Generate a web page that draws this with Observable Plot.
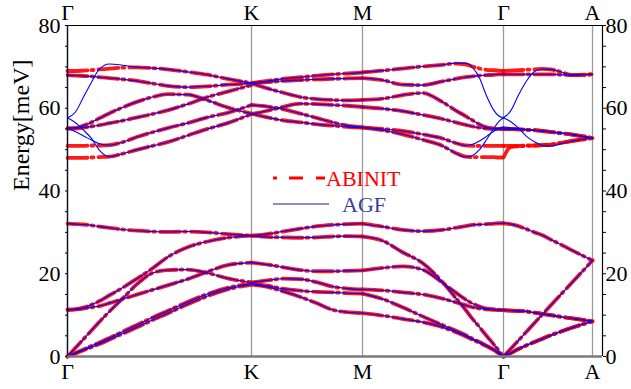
<!DOCTYPE html>
<html><head><meta charset="utf-8">
<script src="https://cdn.jsdelivr.net/npm/d3@7"></script>
<script src="https://cdn.jsdelivr.net/npm/@observablehq/plot@0.6"></script>
<style>
body{margin:0;background:#fff;}
#wrap{position:relative;width:631px;height:389px;}
#legend{position:absolute;left:0;top:0;pointer-events:none;}
</style></head><body><div id="wrap"></div>
<script>
// High-symmetry points (path coordinate) and labels
const symX = [0, 184, 295, 436, 525];
const symLabels = ["Γ", "K", "M", "Γ", "A"];
const yTicks = [0, 20, 40, 60, 80];

// Sampling grids along each path segment
const gridGK = [0, 8, 16, 24, 32, 42, 55, 70, 85, 100, 120, 140, 160, 184];
const gridKM = [184, 200, 215, 233, 250, 265, 280, 295];
const gridMG = [295, 315, 335, 355, 375, 388, 398, 405, 412, 419, 426, 431, 436];
const gridGA = [436, 443, 451, 459, 467, 475, 483, 493, 505, 525];

// Lower six branches (ABINIT and AGF coincide)
const lowGK = [
  [0, 0.75, 1.5, 2.25, 3.0, 4.1, 5.5, 7.1, 8.8, 10.4, 12.6, 14.6, 16.2, 17.4],
  [0, 0.85, 1.7, 2.6, 3.4, 4.5, 6.0, 7.7, 9.4, 11.0, 13.2, 15.1, 16.6, 17.6],
  [0, 2.1, 4.2, 6.3, 8.4, 10.9, 14.0, 17.6, 20.2, 20.9, 21.0, 20.2, 18.9, 17.9],
  [11.3, 11.4, 11.6, 11.9, 12.2, 12.9, 13.9, 15.0, 16.1, 17.2, 18.7, 20.5, 22.1, 22.7],
  [11.3, 11.4, 11.8, 12.5, 13.4, 14.8, 16.6, 18.9, 21.3, 24.0, 26.4, 27.8, 28.7, 29.2],
  [32.1, 32.0, 31.9, 31.7, 31.4, 31.1, 30.7, 30.4, 30.2, 30.1, 30.2, 30.0, 29.6, 29.2]
];
const lowKM = [
  [17.4, 16.8, 15.8, 14.4, 12.8, 11.3, 10.7, 10.5],
  [17.6, 17.1, 16.4, 15.9, 15.6, 15.5, 15.3, 15.2],
  [17.9, 18.4, 18.8, 18.7, 17.9, 16.9, 16.4, 16.2],
  [22.7, 22.2, 21.6, 20.9, 20.6, 20.6, 20.7, 20.8],
  [29.2, 28.9, 28.8, 28.7, 28.8, 29.0, 29.1, 29.0],
  [29.2, 29.6, 30.2, 30.9, 31.5, 31.8, 32.0, 32.1]
];
const lowMG = [
  [10.5, 9.9, 9.1, 8.3, 7.1, 5.9, 4.9, 4.1, 3.3, 2.5, 1.6, 0.8, 0],
  [15.2, 13.9, 11.9, 9.7, 7.6, 6.3, 5.2, 4.3, 3.5, 2.6, 1.7, 0.9, 0],
  [16.2, 16.0, 15.5, 15.0, 14.0, 13.1, 12.4, 11.9, 11.6, 11.4, 11.3, 11.2, 11.2],
  [20.8, 21.4, 21.8, 21.0, 17.8, 15.5, 13.8, 12.8, 12.1, 11.6, 11.4, 11.3, 11.2],
  [29.0, 28.0, 25.2, 22.6, 18.0, 14.2, 11.3, 9.1, 7.1, 5.0, 3.0, 1.5, 0],
  [32.1, 31.4, 30.6, 30.3, 30.6, 31.1, 31.5, 31.8, 31.9, 32.0, 32.1, 32.2, 32.2]
];
const lowGA = [
  [0, 0.8, 1.8, 2.7, 3.5, 4.3, 5.1, 6.0, 7.0, 8.5],
  [0, 0.8, 1.8, 2.7, 3.5, 4.3, 5.1, 6.0, 7.0, 8.5],
  [11.2, 11.1, 11.0, 10.9, 10.6, 10.3, 10.0, 9.6, 9.2, 8.5],
  [11.2, 11.1, 11.0, 10.9, 10.6, 10.3, 10.0, 9.6, 9.2, 8.5],
  [0, 1.8, 3.9, 6.0, 8.1, 10.2, 12.3, 14.9, 18.0, 23.2],
  [32.2, 32.0, 31.5, 30.8, 30.0, 29.3, 28.3, 27.1, 25.6, 23.2]
];

// Upper six branches, ABINIT
const abinitGK = [
  [48.0, 48.0, 48.0, 48.1, 48.2, 48.3, 49.0, 50.0, 50.9, 51.8, 53.4, 55.0, 56.4, 58.6],
  [50.9, 50.9, 50.9, 51.0, 51.0, 51.1, 51.8, 53.1, 54.2, 55.2, 56.4, 57.8, 58.9, 60.8],
  [55.1, 55.2, 55.8, 56.6, 57.6, 58.8, 60.2, 61.6, 62.7, 63.4, 63.3, 61.9, 60.2, 58.7],
  [55.1, 55.1, 55.3, 55.6, 55.9, 56.4, 57.0, 57.8, 58.6, 59.5, 61.0, 62.7, 64.0, 65.6],
  [68.0, 67.9, 67.8, 67.7, 67.5, 67.3, 67.0, 66.6, 66.0, 65.4, 65.1, 65.3, 65.7, 66.0],
  [69.0, 69.0, 69.1, 69.2, 69.4, 69.6, 69.8, 69.9, 69.7, 69.4, 68.8, 68.1, 67.1, 66.1]
];
const abinitKM = [
  [66.1, 66.6, 67.1, 67.5, 67.9, 68.2, 68.4, 68.6],
  [66.0, 66.3, 66.6, 66.8, 67.0, 67.1, 67.2, 67.3],
  [66.0, 64.8, 63.8, 62.7, 62.2, 62.0, 61.9, 62.0],
  [60.8, 60.4, 59.8, 58.7, 57.6, 56.6, 55.8, 55.4],
  [58.6, 59.4, 60.3, 61.1, 61.0, 60.8, 60.6, 60.3],
  [58.7, 57.8, 57.1, 56.6, 56.1, 55.8, 55.5, 55.3]
];
const abinitMG = [
  [68.7, 69.1, 69.6, 70.1, 70.5, 70.8, 70.6, 70.1, 69.6, 69.3, 69.2, 69.1, 69.0],
  [67.3, 66.8, 65.7, 65.6, 66.5, 67.1, 67.5, 67.7, 67.9, 68.0, 68.1, 68.2, 68.2],
  [62.0, 62.3, 63.2, 63.7, 61.5, 59.5, 58.1, 57.1, 56.1, 55.4, 55.1, 55.0, 55.0],
  [60.3, 59.9, 59.3, 58.4, 57.4, 56.6, 56.0, 55.6, 55.3, 55.1, 55.0, 55.0, 55.0],
  [55.4, 55.0, 54.5, 53.7, 52.7, 51.6, 51.0, 50.9, 50.9, 50.9, 50.9, 50.9, 50.9],
  [55.3, 54.7, 53.7, 52.4, 50.9, 49.2, 48.3, 48.2, 48.2, 48.2, 48.2, 48.1, 48.1]
];
const abinitGA = [
  [69.0, 69.1, 69.2, 69.3, 69.4, 69.5, 69.4, 68.8, 68.0, 68.2],
  [68.2, 68.2, 68.2, 68.2, 68.2, 68.2, 68.2, 68.1, 68.0, 68.2],
  [55.0, 54.95, 54.9, 54.8, 54.7, 54.5, 54.3, 54.0, 53.6, 52.8],
  [55.0, 54.95, 54.9, 54.8, 54.7, 54.5, 54.3, 54.0, 53.6, 52.8],
  [50.9, 50.9, 50.9, 51.0, 51.0, 51.1, 51.2, 51.6, 52.1, 52.8],
  [48.1, 50.6, 50.8, 50.9, 51.0, 51.1, 51.2, 51.6, 52.1, 52.8]
];

// Upper six branches, AGF
const agfGK = [
  [57.7, 56.5, 54.7, 52.7, 49.8, 48.3, 49.0, 50.0, 50.9, 51.8, 53.4, 55.0, 56.4, 58.6],
  [55.2, 54.3, 53.3, 52.3, 51.4, 51.1, 51.8, 53.1, 54.2, 55.2, 56.4, 57.8, 58.9, 60.8],
  [55.2, 55.3, 55.8, 56.6, 57.6, 58.8, 60.2, 61.6, 62.7, 63.4, 63.3, 61.9, 60.2, 58.7],
  [55.2, 55.2, 55.3, 55.6, 55.9, 56.4, 57.0, 57.8, 58.6, 59.5, 61.0, 62.7, 64.0, 65.6],
  [68.0, 67.9, 67.8, 67.7, 67.5, 67.3, 67.0, 66.6, 66.0, 65.4, 65.1, 65.3, 65.7, 66.0],
  [57.7, 59.1, 62.7, 66.3, 69.5, 70.7, 70.4, 69.9, 69.7, 69.4, 68.8, 68.1, 67.1, 66.1]
];
const agfKM = abinitKM;
const agfMG = [
  [68.7, 69.1, 69.6, 70.1, 70.5, 70.9, 70.9, 69.9, 67.3, 63.0, 59.6, 58.2, 57.7],
  [67.3, 66.8, 65.7, 65.6, 66.5, 67.1, 67.5, 67.7, 67.9, 68.0, 68.1, 68.2, 68.2],
  [62.0, 62.3, 63.2, 63.7, 61.5, 59.5, 58.1, 57.1, 56.1, 55.4, 55.1, 55.0, 55.0],
  [60.3, 59.9, 59.3, 58.4, 57.4, 56.6, 56.0, 55.6, 55.3, 55.1, 55.0, 55.0, 55.0],
  [55.4, 55.0, 54.5, 53.7, 52.7, 51.6, 51.0, 51.3, 52.1, 53.2, 54.4, 55.1, 55.5],
  [55.3, 54.7, 53.7, 52.4, 50.9, 49.2, 48.2, 48.6, 50.0, 52.4, 55.0, 56.7, 57.7]
];
const agfGA = [
  [57.7, 59.3, 63.2, 66.6, 68.9, 69.5, 69.4, 68.8, 68.0, 68.2],
  [68.2, 68.2, 68.2, 68.2, 68.2, 68.2, 68.2, 68.1, 68.0, 68.2],
  [55.0, 54.95, 54.9, 54.8, 54.7, 54.5, 54.3, 54.0, 53.6, 52.8],
  [55.0, 54.95, 54.9, 54.8, 54.7, 54.5, 54.3, 54.0, 53.6, 52.8],
  [57.7, 56.8, 55.2, 53.2, 51.9, 51.0, 50.8, 51.4, 52.1, 52.8],
  [55.5, 55.3, 55.1, 54.9, 54.7, 54.5, 54.3, 54.0, 53.6, 52.8]
];

const seriesNames = ["ABINIT", "AGF"];

function build(series, parts) {
  const out = [];
  parts.forEach(([seg, grid, bands]) => {
    bands.forEach((vals, b) => vals.forEach((v, i) => out.push({series, key: seg + "-" + b, x: grid[i], y: v})));
  });
  return out;
}
const lowParts = (tag) => [[tag+"GKl", gridGK, lowGK], [tag+"KMl", gridKM, lowKM], [tag+"MGl", gridMG, lowMG], [tag+"GAl", gridGA, lowGA]];
const abinitData = build("ABINIT", [...lowParts("a"), ["aGKu", gridGK, abinitGK], ["aKMu", gridKM, abinitKM], ["aMGu", gridMG, abinitMG], ["aGAu", gridGA, abinitGA]]);
const agfData = build("AGF", [...lowParts("b"), ["bGKu", gridGK, agfGK], ["bKMu", gridKM, agfKM], ["bMGu", gridMG, agfMG], ["bGAu", gridGA, agfGA]]);

const FONT = "'Liberation Serif', 'Times New Roman', serif";
const RED = "#ff0000", BLUE = "#0000ff";
const DASH = "20,4,2,5";

const plot = Plot.plot({
  width: 631, height: 389,
  marginLeft: 67, marginRight: 29, marginTop: 25, marginBottom: 33,
  x: {domain: [0, 535]},
  y: {domain: [0, 80]},
  style: {fontFamily: FONT, background: "white", overflow: "visible", color: "black"},
  marks: [
    Plot.ruleX(symX.slice(1), {stroke: "#9a9a9a", strokeWidth: 1.3}),
    Plot.line(abinitData, {x: "x", y: "y", z: "key", curve: "monotone-x", stroke: RED, strokeWidth: 3.8, strokeDasharray: DASH, strokeOpacity: 0.9}),
    Plot.line(agfData, {x: "x", y: "y", z: "key", curve: "monotone-x", stroke: BLUE, strokeWidth: 1.1}),
    Plot.ruleY([80], {stroke: "black", strokeWidth: 1.2}),
    Plot.ruleX([535], {stroke: "black", strokeWidth: 1.2}),
    Plot.ruleY([0], {stroke: "#7a7a7a", strokeWidth: 2.5}),
    Plot.ruleX([0], {stroke: "#101030", strokeWidth: 1.5}),
    Plot.axisX({anchor: "bottom", ticks: symX, tickFormat: d => symLabels[symX.indexOf(d)], tickSize: 0, tickPadding: 7, fontSize: 22, label: null}),
    Plot.axisX({anchor: "top", ticks: symX, tickFormat: d => symLabels[symX.indexOf(d)], tickSize: 0, tickPadding: 6, fontSize: 22, label: null}),
    Plot.axisY({anchor: "left", ticks: yTicks, tickSize: 0, tickPadding: 7, fontSize: 22, label: null}),
    Plot.axisY({anchor: "left", ticks: d3.range(0, 81, 5), tickSize: 2, tickFormat: () => "", label: null}),
    Plot.axisY({anchor: "right", ticks: yTicks, tickSize: 0, tickPadding: 3, fontSize: 22, label: null}),
    Plot.axisY({anchor: "right", ticks: d3.range(0, 81, 5), tickSize: 3, tickFormat: () => "", label: null}),
    Plot.text(["Energy[meV]"], {frameAnchor: "left", dx: -46, rotate: -90, fontSize: 24, fill: "black"})
  ]
});
const wrap = document.getElementById("wrap");
wrap.appendChild(plot);

// Legend overlay (inside plot area, as in the reference)
const leg = d3.create("svg").attr("id", "legend").attr("width", 631).attr("height", 389);
leg.append("line").attr("x1", 273).attr("x2", 329).attr("y1", 178).attr("y2", 178)
  .attr("stroke", RED).attr("stroke-width", 3).attr("stroke-dasharray", "4,12,14,13,9");
leg.append("text").attr("x", 326).attr("y", 186).text(seriesNames[0])
  .attr("fill", RED).attr("font-family", FONT).attr("font-size", 22);
leg.append("line").attr("x1", 273).attr("x2", 329).attr("y1", 204).attr("y2", 204)
  .attr("stroke", "#8c8cd0").attr("stroke-width", 2);
leg.append("text").attr("x", 342).attr("y", 212).text(seriesNames[1])
  .attr("fill", "#3c3ca0").attr("font-family", FONT).attr("font-size", 22);
wrap.appendChild(leg.node());
</script></body></html>
